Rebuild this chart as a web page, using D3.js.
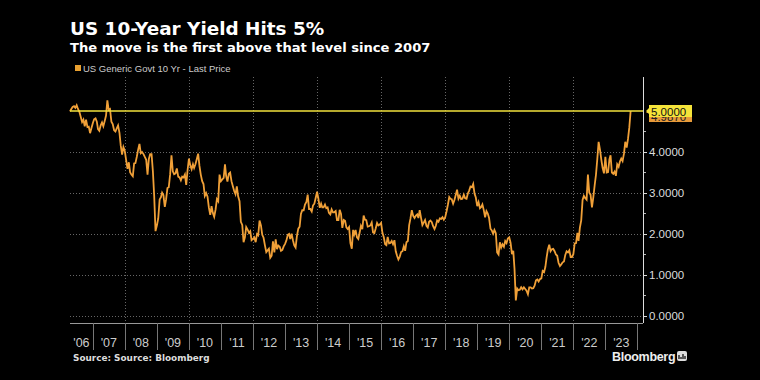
<!DOCTYPE html>
<html>
<head>
<meta charset="utf-8">
<script src="https://cdn.jsdelivr.net/npm/d3@7"></script>
<style>
  html, body { margin: 0; padding: 0; background: #000; }
  svg { display: block; }
</style>
</head>
<body>
<svg id="chart" width="760" height="380"></svg>
<script>
// ===== Data =====
// US Generic Govt 10 Yr, readings on the 16th and the 1st of each month, from 16 Apr 2006
const seriesStart = new Date(2006, 3, 16);
const yields = [
  4.99,
  5.05, 5.10, 5.12, 5.08, 5.14, 5.05, 4.98, 4.86, 4.73, 4.79, 4.63, 4.79, 4.61, 4.62, 4.46, 4.58, 4.70,
  4.80, 4.82, 4.74, 4.56, 4.52, 4.65, 4.72, 4.63, 4.75, 4.89, 5.26, 5.03, 5.05, 4.74, 4.68, 4.53, 4.50, 4.58, 4.65, 4.47, 4.15, 3.94, 4.12, 4.02,
  3.80, 3.59, 3.75, 3.51, 3.45, 3.41, 3.72, 3.73, 3.88, 4.06, 4.20, 3.97, 4.00, 3.95, 3.88, 3.81, 3.45, 3.83, 3.95, 3.95, 3.53, 2.92, 2.07, 2.21,
  2.38, 2.84, 2.90, 3.01, 2.95, 2.66, 2.85, 3.12, 3.14, 3.46, 3.92, 3.53, 3.46, 3.48, 3.60, 3.40, 3.38, 3.31, 3.40, 3.38, 3.45, 3.20, 3.55, 3.84,
  3.68, 3.58, 3.70, 3.61, 3.70, 3.83, 3.96, 3.66, 3.45, 3.29, 3.22, 2.93, 3.00, 2.91, 2.65, 2.47, 2.68, 2.51, 2.42, 2.60, 2.85, 2.80, 3.45, 3.29,
  3.33, 3.37, 3.70, 3.42, 3.28, 3.47, 3.50, 3.29, 3.17, 3.05, 2.97, 3.16, 2.92, 2.80, 2.30, 2.22, 1.80, 1.92, 2.17, 2.11, 2.03, 2.07, 1.85, 1.88,
  1.92, 1.80, 2.00, 1.97, 2.33, 2.21, 1.98, 1.91, 1.73, 1.56, 1.60, 1.64, 1.42, 1.47, 1.82, 1.55, 1.87, 1.63, 1.72, 1.69, 1.59, 1.61, 1.70, 1.76,
  1.84, 1.98, 2.00, 1.88, 2.01, 1.85, 1.72, 1.67, 1.95, 2.13, 2.18, 2.49, 2.58, 2.58, 2.72, 2.78, 2.96, 2.61, 2.61, 2.55, 2.70, 2.74, 2.88, 3.03,
  2.86, 2.64, 2.74, 2.65, 2.65, 2.72, 2.63, 2.65, 2.52, 2.48, 2.60, 2.53, 2.53, 2.56, 2.34, 2.34, 2.59, 2.49, 2.15, 2.34, 2.32, 2.16, 2.12, 2.17,
  1.78, 1.64, 2.10, 1.99, 2.10, 1.92, 1.88, 2.03, 2.20, 2.12, 2.45, 2.35, 2.34, 2.18, 2.19, 2.21, 2.28, 2.04, 2.02, 2.14, 2.27, 2.21, 2.23, 2.27,
  2.03, 1.92, 1.75, 1.73, 1.93, 1.77, 1.78, 1.83, 1.75, 1.85, 1.58, 1.47, 1.38, 1.45, 1.56, 1.58, 1.70, 1.59, 1.80, 1.83, 2.22, 2.38, 2.58, 2.44,
  2.39, 2.45, 2.48, 2.39, 2.58, 2.39, 2.22, 2.28, 2.34, 2.20, 2.16, 2.30, 2.33, 2.29, 2.19, 2.12, 2.20, 2.33, 2.30, 2.38, 2.37, 2.41, 2.35, 2.41,
  2.55, 2.72, 2.90, 2.86, 2.85, 2.74, 2.83, 2.95, 3.08, 2.86, 2.93, 2.85, 2.86, 2.96, 2.87, 2.86, 2.99, 3.06, 3.16, 3.14, 3.22, 2.99, 2.89, 2.68,
  2.78, 2.63, 2.66, 2.72, 2.59, 2.41, 2.56, 2.50, 2.39, 2.13, 2.09, 2.01, 2.10, 2.02, 1.55, 1.50, 1.80, 1.67, 1.75, 1.69, 1.83, 1.78, 1.89, 1.92,
  1.79, 1.51, 1.59, 1.15, 0.38, 0.67, 0.63, 0.64, 0.70, 0.65, 0.70, 0.66, 0.62, 0.53, 0.70, 0.70, 0.67, 0.68, 0.74, 0.87, 0.89, 0.84, 0.90, 0.92,
  1.10, 1.07, 1.20, 1.41, 1.62, 1.74, 1.58, 1.63, 1.64, 1.58, 1.50, 1.47, 1.30, 1.22, 1.26, 1.31, 1.33, 1.49, 1.58, 1.55, 1.60, 1.44, 1.44, 1.51,
  1.77, 1.78, 2.03, 1.83, 2.15, 2.34, 2.83, 2.93, 2.88, 2.84, 3.45, 3.01, 2.96, 2.65, 2.89, 3.19, 3.45, 3.83, 4.25, 4.05, 3.81, 3.61, 3.48, 3.88,
  3.50, 3.51, 3.82, 3.92, 3.50, 3.47, 3.52, 3.42, 3.70, 3.64, 3.77, 3.84, 3.78, 3.96, 4.25, 4.11, 4.32, 4.60, 5.00
];
const lastPrice = "4.9870";
const levelValue = 5;
const levelLabel = "5.0000";

const yTicks = [0, 1, 2, 3, 4, 5];
const yMinorTicks = [0.5, 1.5, 2.5, 3.5, 4.5];
const yearLabels = ["'06", "'07", "'08", "'09", "'10", "'11", "'12", "'13", "'14", "'15",
                    "'16", "'17", "'18", "'19", "'20", "'21", "'22", "'23"];
const firstYear = 2006;

// dates for the series: 16th, then 1st of the next month, alternately
const dates = yields.map((v, i) => {
  const m = Math.floor((i + 1) / 2);
  return i % 2 === 0
    ? new Date(2006, 3 + m, 16)
    : new Date(2006, 3 + m, 1);
});
const series = yields.map((v, i) => ({ date: dates[i], value: v }));

// ===== Layout =====
const svg = d3.select("#chart");
const W = 760, H = 380;
const plot = { left: 70, right: 643, top: 77, bottom: 323 };

svg.append("rect").attr("width", W).attr("height", H).attr("fill", "#000");

const x = d3.scaleTime()
  .domain([seriesStart, new Date(2024, 2, 5)])
  .range([plot.left, plot.right]);

const y = d3.scaleLinear()
  .domain([-0.17, 5.83])
  .range([plot.bottom, plot.top]);

// ===== Grid =====
const grid = svg.append("g");
grid.selectAll("line.h")
  .data(yTicks.filter(d => d < 5))
  .enter().append("line")
  .attr("x1", plot.left).attr("x2", plot.right)
  .attr("y1", d => Math.round(y(d)) + 0.5).attr("y2", d => Math.round(y(d)) + 0.5)
  .attr("stroke", "#666")
  .attr("stroke-width", 1)
  .attr("stroke-dasharray", "1,2");

const evenYears = d3.range(2008, 2024, 2).map(yr => new Date(yr, 0, 1));
grid.selectAll("line.v")
  .data(evenYears)
  .enter().append("line")
  .attr("x1", d => Math.round(x(d)) + 0.5).attr("x2", d => Math.round(x(d)) + 0.5)
  .attr("y1", plot.top).attr("y2", plot.bottom)
  .attr("stroke", "#666")
  .attr("stroke-width", 1)
  .attr("stroke-dasharray", "1,2");

// ===== Series =====
const line = d3.line()
  .x(d => x(d.date))
  .y(d => y(d.value));

svg.append("path")
  .datum(series)
  .attr("d", line)
  .attr("fill", "none")
  .attr("stroke", "#f0a038")
  .attr("stroke-width", 1.8)
  .attr("stroke-linejoin", "miter");

// 5% level line
svg.append("line")
  .attr("x1", plot.left).attr("x2", plot.right)
  .attr("y1", y(levelValue)).attr("y2", y(levelValue))
  .attr("stroke", "#f2e23c")
  .attr("stroke-width", 1.5);

// ===== Axes =====
svg.append("line")
  .attr("x1", plot.left).attr("x2", plot.right)
  .attr("y1", plot.bottom + 0.5).attr("y2", plot.bottom + 0.5)
  .attr("stroke", "#999");

const yAxis = d3.axisRight(y)
  .tickValues(yTicks.filter(d => d < 5))
  .tickSize(4)
  .tickPadding(2)
  .tickFormat(d3.format(".4f"));

const yAxisG = svg.append("g")
  .attr("transform", `translate(${plot.right},0)`)
  .call(yAxis);
yAxisG.select(".domain").remove();
yAxisG.selectAll(".tick line").attr("stroke", "#ddd");
yAxisG.selectAll(".tick text")
  .attr("fill", "#ddd")
  .style("font-family", "'Liberation Sans', Arial, sans-serif")
  .style("font-size", "11.5px");

svg.append("g")
  .selectAll("line")
  .data(yMinorTicks)
  .enter().append("line")
  .attr("x1", plot.right).attr("x2", plot.right + 3)
  .attr("y1", d => y(d)).attr("y2", d => y(d))
  .attr("stroke", "#bbb");

svg.append("line")
  .attr("x1", plot.right + 0.5).attr("x2", plot.right + 0.5)
  .attr("y1", plot.top).attr("y2", plot.bottom)
  .attr("stroke", "#ddd")
  .attr("stroke-width", 1);

// year separators + labels
const yearStarts = d3.range(firstYear + 1, firstYear + yearLabels.length + 1)
  .map(yr => new Date(yr, 0, 1));
svg.append("g")
  .selectAll("line")
  .data(yearStarts)
  .enter().append("line")
  .attr("x1", d => Math.round(x(d)) + 0.5).attr("x2", d => Math.round(x(d)) + 0.5)
  .attr("y1", plot.bottom).attr("y2", plot.bottom + 27)
  .attr("stroke", "#777");

svg.append("g")
  .selectAll("text")
  .data(yearLabels)
  .enter().append("text")
  .attr("x", (d, i) => {
    const a = Math.max(x(new Date(firstYear + i, 0, 1)), plot.left);
    const b = x(new Date(firstYear + i + 1, 0, 1));
    return (a + b) / 2;
  })
  .attr("y", plot.bottom + 24)
  .attr("text-anchor", "middle")
  .attr("fill", "#ccc")
  .style("font-family", "'Liberation Sans', Arial, sans-serif")
  .style("font-size", "12.5px")
  .text(d => d);

// ===== Right-hand value tags =====
const ly = y(levelValue);
const tagX = plot.right + 3;
// last price tag, mostly hidden behind the 5% tag
svg.append("path")
  .attr("d", `M${tagX},${ly + 2} L${tagX + 3},${ly - 1} L${tagX + 3},${ly + 11} L${tagX + 46},${ly + 11} L${tagX + 46},${ly + 1} Z`)
  .attr("fill", "#e89b3a");
svg.append("text")
  .attr("x", tagX + 5).attr("y", ly + 10)
  .attr("fill", "#222")
  .style("font-family", "'Liberation Sans', Arial, sans-serif")
  .style("font-size", "11.5px")
  .text(lastPrice);

svg.append("path")
  .attr("d", `M${tagX},${ly} L${tagX + 3},${ly - 3} L${tagX + 3},${ly - 6} L${tagX + 46},${ly - 6} L${tagX + 46},${ly + 6} L${tagX + 3},${ly + 6} L${tagX + 3},${ly + 3} Z`)
  .attr("fill", "#f5e43a");
svg.append("text")
  .attr("x", tagX + 5).attr("y", ly + 4.5)
  .attr("fill", "#111")
  .style("font-family", "'Liberation Sans', Arial, sans-serif")
  .style("font-size", "11.5px")
  .text(levelLabel);

// ===== Titles =====
svg.append("text")
  .attr("x", 70).attr("y", 35)
  .attr("fill", "#fff")
  .style("font-family", "'DejaVu Sans', Verdana, sans-serif")
  .style("font-weight", "bold")
  .style("font-size", "18.4px")
  .text("US 10-Year Yield Hits 5%");

svg.append("text")
  .attr("x", 70).attr("y", 52)
  .attr("fill", "#fff")
  .style("font-family", "'DejaVu Sans', Verdana, sans-serif")
  .style("font-weight", "bold")
  .style("font-size", "13.1px")
  .text("The move is the first above that level since 2007");

// legend
svg.append("rect")
  .attr("x", 75).attr("y", 65).attr("width", 6).attr("height", 6)
  .attr("fill", "#e8a030");
svg.append("text")
  .attr("x", 83).attr("y", 71.5)
  .attr("fill", "#ccc")
  .style("font-family", "'Liberation Sans', Arial, sans-serif")
  .style("font-size", "9.5px")
  .text("US Generic Govt 10 Yr - Last Price");

// ===== Footer =====
svg.append("text")
  .attr("x", 73).attr("y", 361)
  .attr("fill", "#ddd")
  .style("font-family", "'DejaVu Sans', Verdana, sans-serif")
  .style("font-weight", "bold")
  .style("font-size", "8.9px")
  .text("Source: Source: Bloomberg");

svg.append("text")
  .attr("x", 612).attr("y", 361)
  .attr("fill", "#eee")
  .style("font-family", "'Liberation Sans', Arial, sans-serif")
  .style("font-weight", "bold")
  .style("font-size", "12.5px")
  .style("letter-spacing", "-0.3px")
  .text("Bloomberg");

const logo = svg.append("g").attr("transform", "translate(677,351)");
logo.append("rect")
  .attr("width", 10).attr("height", 10).attr("rx", 2)
  .attr("fill", "#ddd");
[[2, 4], [4, 2], [6, 5], [8, 3]].forEach(([bx, bh]) => {
  logo.append("rect")
    .attr("x", bx - 0.6).attr("y", 8 - bh).attr("width", 1.2).attr("height", bh)
    .attr("fill", "#000");
});
</script>
</body>
</html>
